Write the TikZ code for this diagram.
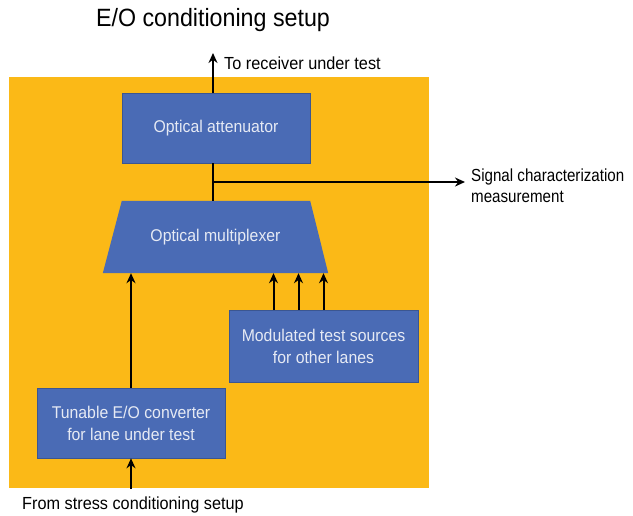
\documentclass[tikz,border=0pt]{standalone}
\usepackage{fontspec}
\setmainfont[FakeStretch=0.93]{Liberation Sans}
\usetikzlibrary{arrows.meta}
\definecolor{panel}{HTML}{FBB917}
\definecolor{unit}{HTML}{4A6BB5}
\definecolor{unittext}{HTML}{E6EAF4}
\tikzset{
  blk/.style={fill=unit, draw=unit!80!black, line width=0.6pt, text=unittext,
    font=\fontsize{17}{22}\selectfont, align=center, inner sep=0pt},
  lbl/.style={font=\fontsize{17.5}{21}\selectfont, align=left, inner sep=0pt},
  arr/.style={line width=2pt, -{Stealth[length=10pt,width=9pt]}},
  wire/.style={line width=2pt}
}
\begin{document}
\begin{tikzpicture}[x=1pt,y=-1pt]
  \useasboundingbox (0,0) rectangle (633,515);
  \fill[white] (0,0) rectangle (633,515);
  % yellow panel
  \fill[panel] (9,77) rectangle (429,488);

  \node[font=\fontsize{25}{30}\selectfont, anchor=center] (title) at (213,20) {E/O conditioning setup};

  % units
  \node[blk, minimum width=188, minimum height=70] (att) at (216,128) {Optical attenuator};
  \node[inner sep=0pt, minimum width=225, minimum height=72] (mux) at (215.5,237) {};
  \fill[unit] (mux.south west) -- ([xshift=19]mux.north west) -- ([xshift=-18]mux.north east)
    -- (mux.south east) -- cycle;
  \node[blk, fill=none, draw=none] (muxl) at (mux.center) {Optical multiplexer};
  \node[blk, minimum width=189, minimum height=72] (mod) at (323.5,346) {Modulated test sources\\for other lanes};
  \node[blk, minimum width=188, minimum height=70] (conv) at (131,423) {Tunable E/O converter\\for lane under test};

  % free ends
  \coordinate (out) at (213,53);
  \coordinate (tap) at (213,182);
  \coordinate (meas) at (465,182);
  \coordinate (in) at (131,489);

  % labels
  \node[lbl, anchor=west] (rxl) at (224,63) {To receiver under test};
  \node[lbl, anchor=north west, transform shape, xscale=0.93] (measl) at (471,169) {Signal characterization\\measurement};
  \node[lbl, anchor=west] (inl) at (22,505) {From stress conditioning setup};

  % connectors
  \draw[arr] (att.north -| out) -- (out);
  \draw[wire] (att.south -| tap) -- (mux.north -| tap);
  \draw[arr] (tap) -- (meas);
  \draw[arr] (in) -- (conv.south);
  \draw[arr] (conv.north) -- (conv.north |- mux.south);
  \foreach \dx in {-50,-25,0}
    \draw[arr] ([xshift=\dx]mod.north) -- ([xshift=\dx]mod.north |- mux.south);
\end{tikzpicture}
\end{document}
